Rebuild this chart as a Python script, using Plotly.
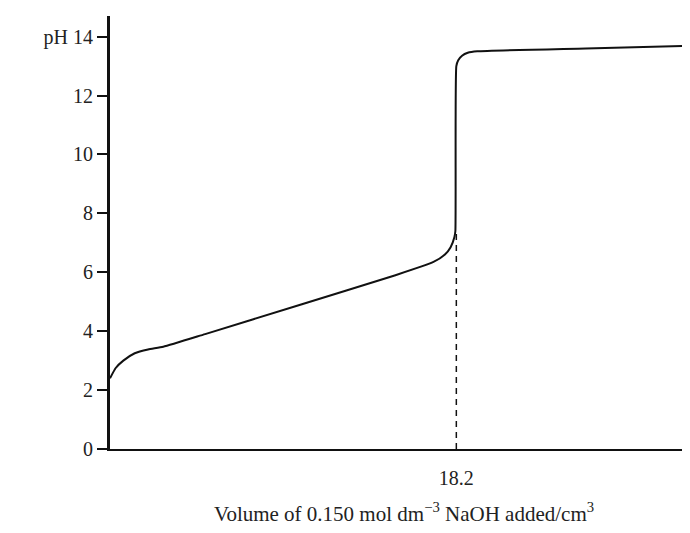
import plotly.graph_objects as go

volume = [0, 0.3, 0.7, 1.3, 2.0, 2.8, 5, 10, 15, 17, 17.6, 17.9, 18.1, 18.15, 18.2, 18.3, 18.5, 18.8, 19.3, 25, 31]
ph = [2.4, 2.75, 3.0, 3.25, 3.38, 3.47, 3.9, 4.9, 5.9, 6.35, 6.6, 6.85, 7.2, 7.4, 13.0, 13.2, 13.35, 13.45, 13.5, 13.6, 13.7]
equiv_volume = 18.2
equiv_ph = 7.4

tick_font = dict(family="Liberation Serif", size=20, color="#222")

fig = go.Figure()
fig.add_trace(go.Scatter(x=volume, y=ph, mode="lines",
                         line=dict(color="#111", width=2, shape="spline", smoothing=0.5), hoverinfo="skip"))
fig.add_trace(go.Scatter(x=[equiv_volume, equiv_volume], y=[0, equiv_ph], mode="lines",
                         line=dict(color="#111", width=1.5, dash="6px,5px"), hoverinfo="skip"))

fig.update_layout(
    width=690, height=533, showlegend=False,
    plot_bgcolor="white", paper_bgcolor="white",
    margin=dict(l=102, r=0, t=8, b=92),
    font=tick_font,
    xaxis=dict(range=[0, 30.9], tickvals=[equiv_volume], ticktext=["18.2"], ticks="",
               tickfont=tick_font, automargin=False,
               showgrid=False, zeroline=False, showline=True, linecolor="#111", linewidth=2,
               ticklabelstandoff=10,
               title=dict(text="Volume of 0.150 mol dm<sup>−3</sup> NaOH added/cm<sup>3</sup>", standoff=18,
                          font=dict(family="Liberation Serif", size=21, color="#222"))),
    yaxis=dict(range=[0, 14.7], tickvals=[0, 2, 4, 6, 8, 10, 12, 14],
               ticktext=["0", "2", "4", "6", "8", "10", "12", "pH 14"],
               tickfont=tick_font,
               ticks="outside", ticklen=10, tickwidth=2, tickcolor="#111",
               showgrid=False, zeroline=False, showline=True, linecolor="#111", linewidth=3),
)
fig.add_shape(type="line", xref="x", yref="y", x0=equiv_volume, x1=equiv_volume, y0=0, y1=-0.35,
              line=dict(color="#111", width=1.5))

fig.write_html("out.html")
